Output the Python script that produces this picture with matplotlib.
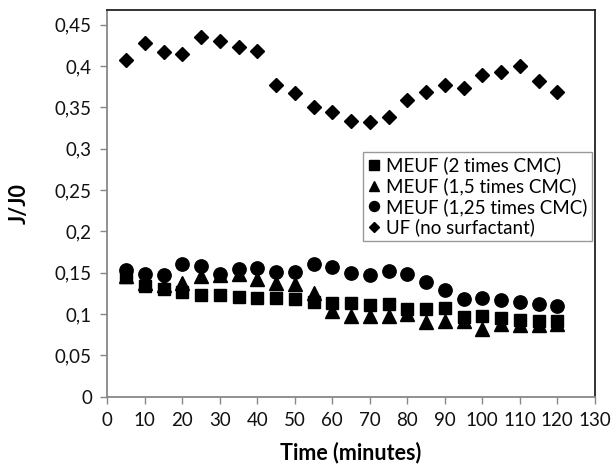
import matplotlib
matplotlib.use("Agg")
import matplotlib.pyplot as plt

plt.rcParams['font.family'] = ['Lato', 'DejaVu Sans']

time = [5, 10, 15, 20, 25, 30, 35, 40, 45, 50, 55, 60,
        65, 70, 75, 80, 85, 90, 95, 100, 105, 110, 115, 120]

meuf_2 = [0.145, 0.134, 0.130, 0.127, 0.123, 0.123, 0.121, 0.119, 0.119, 0.118, 0.115, 0.113,
          0.113, 0.111, 0.112, 0.106, 0.106, 0.107, 0.096, 0.097, 0.095, 0.093, 0.092, 0.091]
meuf_15 = [0.146, 0.138, 0.135, 0.138, 0.146, 0.147, 0.148, 0.142, 0.138, 0.136, 0.126, 0.104,
           0.098, 0.097, 0.097, 0.100, 0.090, 0.091, 0.092, 0.082, 0.088, 0.087, 0.087, 0.088]
meuf_125 = [0.153, 0.148, 0.147, 0.161, 0.158, 0.149, 0.154, 0.156, 0.151, 0.151, 0.160, 0.157,
            0.150, 0.147, 0.152, 0.148, 0.139, 0.129, 0.118, 0.119, 0.117, 0.114, 0.112, 0.110]
uf = [0.407, 0.428, 0.417, 0.415, 0.435, 0.430, 0.423, 0.418, 0.377, 0.367, 0.350, 0.344,
      0.334, 0.333, 0.338, 0.359, 0.369, 0.377, 0.374, 0.389, 0.393, 0.400, 0.382, 0.369]

labels = ["MEUF (2 times CMC)", "MEUF (1,5 times CMC)",
          "MEUF (1,25 times CMC)", "UF (no surfactant)"]

xticks = list(range(0, 131, 10))
yticks = [0, 0.05, 0.1, 0.15, 0.2, 0.25, 0.3, 0.35, 0.4, 0.45]
ytick_labels = ["0", "0,05", "0,1", "0,15", "0,2", "0,25", "0,3", "0,35", "0,4", "0,45"]

fig = plt.figure(figsize=(6.15, 4.67), dpi=100)
ax = fig.add_axes([0.1744, 0.1507, 0.7927, 0.8279])

ax.plot(time, meuf_2, 's', color='black', ms=8.8, label=labels[0])
ax.plot(time, meuf_15, '^', color='black', ms=10.2, label=labels[1])
ax.plot(time, meuf_125, 'o', color='black', ms=9.6, label=labels[2])
ax.plot(time, uf, 'D', color='black', ms=7.4, label=labels[3])

ax.set_xlim(0, 130)
ax.set_ylim(0, 0.468)
ax.set_xticks(xticks)
ax.set_xticklabels([str(v) for v in xticks])
ax.set_yticks(yticks)
ax.set_yticklabels(ytick_labels)
ax.tick_params(axis='both', direction='out', length=5, width=1, color='#888888',
               labelsize=13.5, labelcolor='#111111', pad=6)

for s in ax.spines.values():
    s.set_color('#222222')
    s.set_linewidth(1.3)
ax.spines['left'].set_color('#888888')
ax.spines['bottom'].set_color('#888888')

ax.set_xlabel("Time (minutes)", fontsize=15.5, fontweight='bold', labelpad=9)
ax.set_ylabel("J/J0", fontsize=15.5, fontweight='bold', labelpad=18)

leg = ax.legend(loc='upper right', bbox_to_anchor=(0.994, 0.633), borderaxespad=0,
                fontsize=13.5, fancybox=False, framealpha=1, edgecolor='#999999',
                markerscale=0.75, handlelength=0.6, handletextpad=0.35,
                labelspacing=0.15, borderpad=0.25)
leg.get_frame().set_linewidth(1.0)

fig.savefig("out.png", dpi=100)
